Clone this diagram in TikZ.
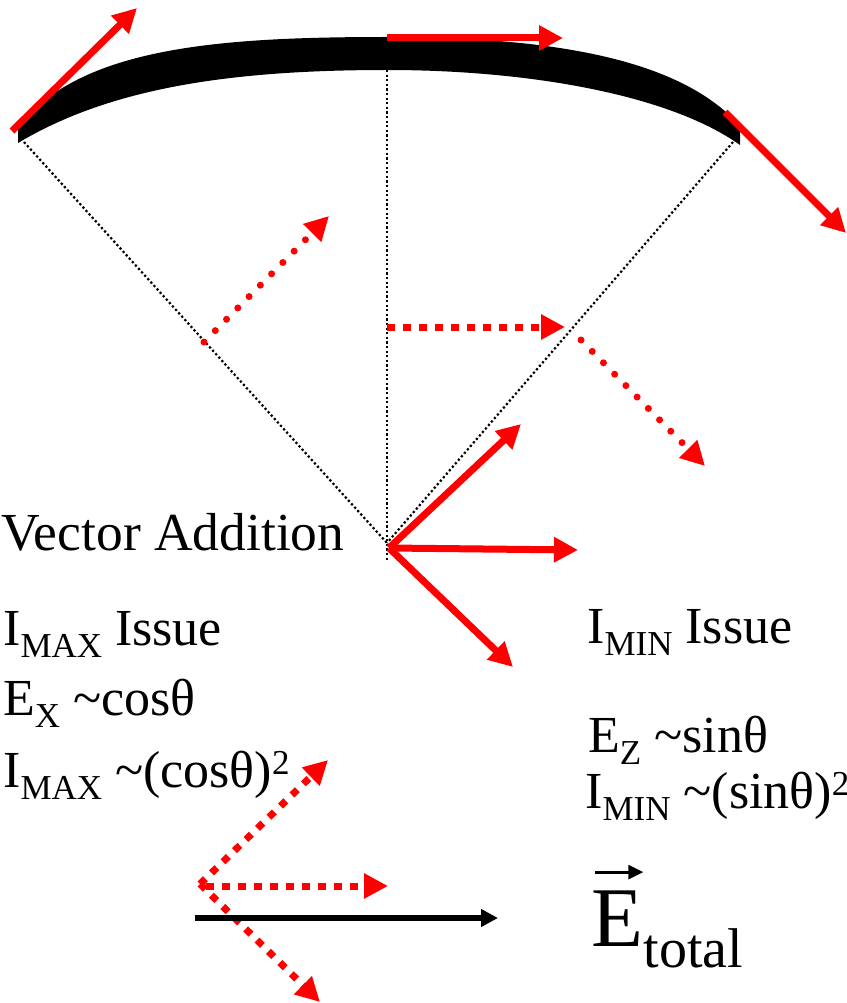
\documentclass[tikz,border=0pt]{standalone}
\usepackage{fontspec}
\setmainfont{Liberation Serif}
\usetikzlibrary{arrows.meta}
\newcommand\lsub[1]{\raisebox{-12pt}{\fontsize{35}{35}\selectfont #1}}
\newcommand\lsup[1]{\raisebox{13pt}{\fontsize{35}{35}\selectfont #1}}
\begin{document}
\begin{tikzpicture}[x=1pt,y=-1pt,
  guide/.style={draw=black,line width=2.2pt,dash pattern=on 2.2pt off 2.4pt},
  redarrow/.style={draw=red,line width=7pt,-{Triangle[length=24pt,width=24pt]},red},
  reddots/.style={redarrow,line cap=round,dash pattern=on 0pt off 16pt},
  redsq/.style={redarrow,dash pattern=on 7.5pt off 8.5pt},
  blackarrow/.style={draw=black,line width=5.5pt,-{Triangle[length=17pt,width=17pt]}},
  vecarrow/.style={draw=black,line width=2.7pt,-{Triangle[length=15pt,width=14pt]}},
  txt/.style={inner sep=0pt,anchor=base west,font=\fontsize{52}{52}\selectfont}]
\useasboundingbox (0,0) rectangle (846,1003);
% crescent
\fill[black] (18,143) .. controls (110,88) and (230,70) .. (387,70)
  .. controls (530,70) and (670,95) .. (740,145) -- (740,126)
  .. controls (680,58) and (550,37) .. (387,37)
  .. controls (220,37) and (80,47) .. (18,127) -- cycle;
% guide coordinates
\coordinate (arcL) at (24,142);
\coordinate (arcR) at (733,142);
\coordinate (arcTop) at (387,70);
\coordinate (apex) at (387,543);
\coordinate (vbot) at (387,562);
\draw[guide] (arcL) -- (apex);
\draw[guide] (arcR) -- (apex);
\draw[guide] (arcTop) -- (vbot);
% top solid arrows
\coordinate (tlA) at (12,131); \coordinate (tlB) at (137,8);
\coordinate (tmA) at (387,38); \coordinate (tmB) at (563,38);
\coordinate (trA) at (725,112); \coordinate (trB) at (846,233);
\draw[redarrow] (tlA) -- (tlB);
\draw[redarrow] (tmA) -- (tmB);
\draw[redarrow] (trA) -- (trB);
% middle dotted arrows
\coordinate (mlA) at (204,342); \coordinate (mlB) at (329,216);
\coordinate (mmA) at (387,327); \coordinate (mmB) at (565,327);
\coordinate (mrA) at (581,340); \coordinate (mrB) at (705,466);
\draw[reddots] (mlA) -- (mlB);
\draw[redsq] (mmA) -- (mmB);
\draw[reddots] (mrA) -- (mrB);
% bottom centre solid arrows
\coordinate (bc) at (389,548);
\coordinate (bcU) at (521,424);
\coordinate (bcR) at (578,550);
\coordinate (bcD) at (513,667);
\draw[redarrow] (bc) -- (bcU);
\draw[redarrow] (bc) -- (bcR);
\draw[redarrow] (bc) -- (bcD);
% bottom left group
\coordinate (blO) at (200,884);
\coordinate (blU) at (328,760);
\coordinate (blR) at (388,886);
\coordinate (blD) at (320,1002);
\coordinate (blH) at (206,886);
\draw[redsq] (blO) -- (blU);
\draw[redsq] (blH) -- (blR);
\draw[redsq] (blO) -- (blD);
\coordinate (kA) at (195,918); \coordinate (kB) at (498,918);
\draw[blackarrow] (kA) -- (kB);
% texts
\node[txt,font=\fontsize{53.5}{53.5}\selectfont] (va) at (1,550) {Vector Addition};
\node[txt] (imax) at (3,645) {I\lsub{MAX} Issue};
\node[txt] (ex) at (3,715) {E\lsub{X} \textasciitilde cosθ};
\node[txt] (imax2) at (3,787) {I\lsub{MAX} \textasciitilde(cosθ)\lsup{2}};
\node[txt] (imin) at (587,643) {I\lsub{MIN} Issue};
\node[txt] (ez) at (588,752) {E\lsub{Z} \textasciitilde sinθ};
\node[txt] (imin2) at (585,808) {I\lsub{MIN} \textasciitilde(sinθ)\lsup{2}};
\node[txt,font=\fontsize{85}{85}\selectfont] (Ebig) at (591,946) {E};
\node[inner sep=0pt,anchor=base west,font=\fontsize{56}{56}\selectfont] (tot) at ([yshift=-21pt]Ebig.base east) {total};
\draw[vecarrow] ([xshift=4pt,yshift=18pt]Ebig.north west) -- ([yshift=18pt]Ebig.north east);
\end{tikzpicture}
\end{document}
